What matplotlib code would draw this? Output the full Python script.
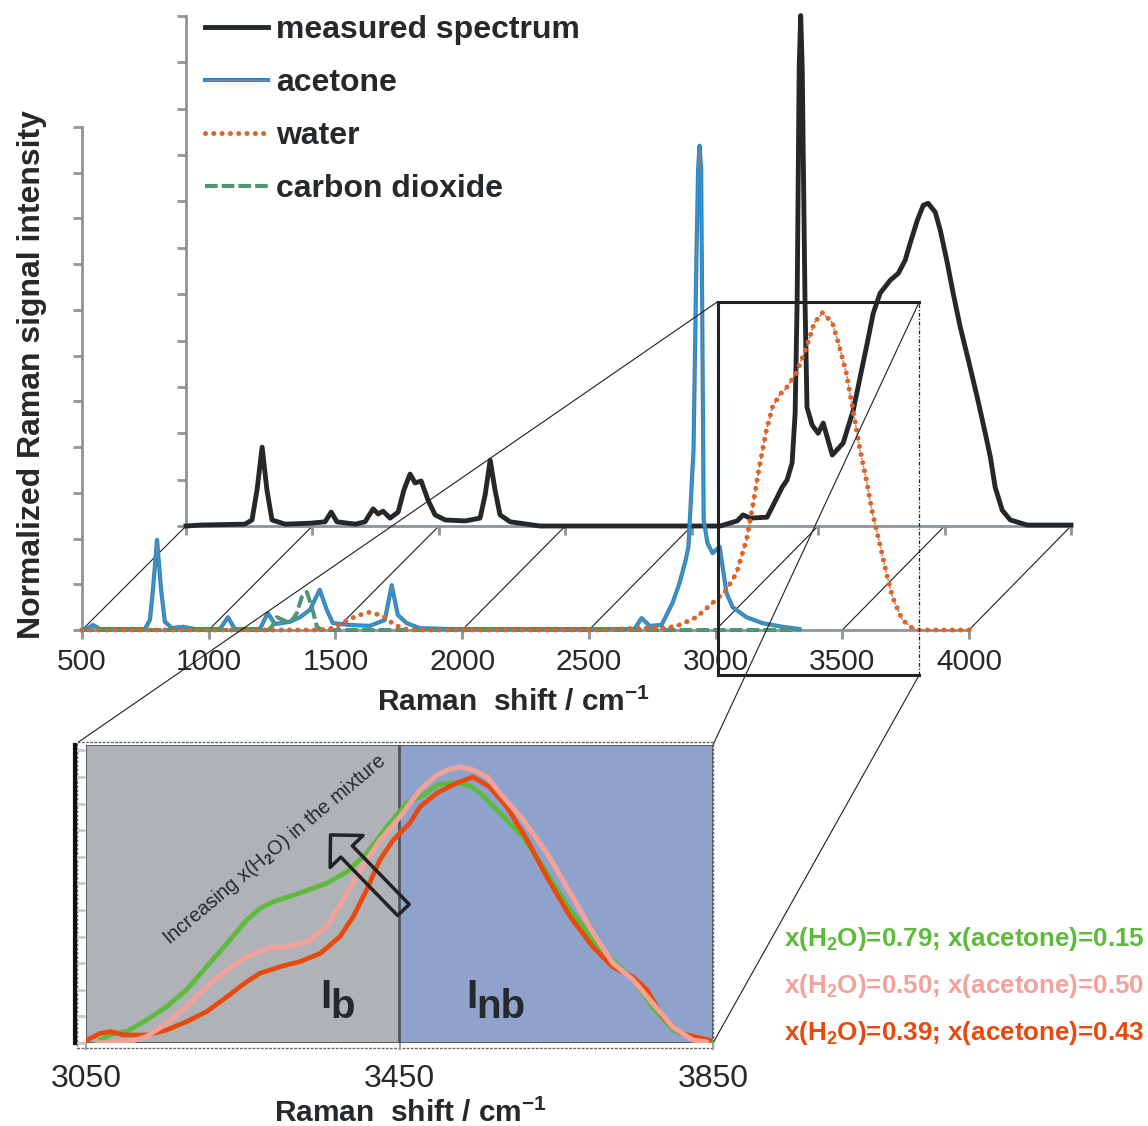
import numpy as np
import matplotlib
matplotlib.use('Agg')
import matplotlib.pyplot as plt
from matplotlib.patches import ConnectionPatch, Rectangle
from matplotlib.legend_handler import HandlerTuple

plt.rcParams['font.family'] = ['Liberation Sans', 'DejaVu Sans']
plt.rcParams['mathtext.fontset'] = 'custom'
plt.rcParams['mathtext.rm'] = 'Liberation Sans:bold'
plt.rcParams['mathtext.it'] = 'Liberation Sans:bold:italic'
plt.rcParams['mathtext.bf'] = 'Liberation Sans:bold'
NARROW = ['Liberation Sans Narrow', 'Liberation Sans', 'DejaVu Sans']

# ---------------- data ----------------
XTICKS = [500, 1000, 1500, 2000, 2500, 3000, 3500, 4000]
YTICKS = [0.0, 0.1, 0.2, 0.3, 0.4, 0.5, 0.6, 0.7, 0.8, 0.9, 1.0, 1.1]

meas_x = [500, 555, 733, 761, 781, 801, 820, 840, 892, 991, 1050, 1074, 1097, 1169, 1208,
          1240, 1260, 1279, 1307, 1339, 1362, 1386, 1406, 1430, 1457, 1485, 1525, 1604, 1663,
          1683, 1703, 1722, 1742, 1782, 1900, 2138, 2454, 2612, 2680, 2703, 2731, 2798, 2838,
          2858, 2877, 2897, 2909, 2917, 2925, 2931, 2937, 2948, 2956, 2976, 3000, 3020, 3056,
          3099, 3139, 3166, 3194, 3218, 3245, 3285, 3317, 3344, 3364, 3392, 3416, 3435, 3463,
          3483, 3511, 3534, 3562, 3594, 3629, 3661, 3681, 3700, 3728, 3760, 3827, 4000]
meas_y = [0.000, 0.002, 0.004, 0.013, 0.078, 0.170, 0.078, 0.013, 0.004, 0.006, 0.009, 0.030,
          0.009, 0.004, 0.009, 0.037, 0.026, 0.032, 0.017, 0.030, 0.078, 0.112, 0.093, 0.097,
          0.056, 0.024, 0.013, 0.011, 0.017, 0.067, 0.142, 0.078, 0.024, 0.009, 0.000, 0.000,
          0.000, 0.000, 0.011, 0.024, 0.017, 0.019, 0.062, 0.084, 0.099, 0.136, 0.243, 0.487,
          0.989, 1.101, 0.989, 0.487, 0.256, 0.218, 0.200, 0.222, 0.153, 0.179, 0.250, 0.321,
          0.394, 0.459, 0.502, 0.530, 0.545, 0.573, 0.610, 0.659, 0.692, 0.696, 0.677, 0.638,
          0.567, 0.502, 0.429, 0.358, 0.278, 0.200, 0.149, 0.084, 0.034, 0.013, 0.002, 0.002]

ace_x = [500, 524, 543, 571, 748, 768, 780, 796, 812, 827, 855, 898, 946, 1044, 1076, 1103,
         1202, 1233, 1261, 1320, 1360, 1399, 1438, 1466, 1490, 1557, 1636, 1695, 1722, 1746,
         1781, 1833, 1951, 2680, 2708, 2740, 2787, 2830, 2858, 2882, 2893, 2913, 2925, 2931,
         2937, 2943, 2947, 2953, 2968, 2988, 3016, 3043, 3067, 3122, 3185, 3264, 3331]
ace_y = [0.000, 0.004, 0.011, 0.002, 0.002, 0.022, 0.088, 0.197, 0.088, 0.018, 0.004, 0.007,
         0.002, 0.002, 0.028, 0.002, 0.002, 0.037, 0.013, 0.018, 0.028, 0.044, 0.088, 0.044,
         0.015, 0.011, 0.009, 0.022, 0.098, 0.033, 0.015, 0.004, 0.002, 0.002, 0.026, 0.009,
         0.011, 0.059, 0.103, 0.153, 0.182, 0.394, 0.832, 1.007, 1.059, 1.007, 0.722, 0.241,
         0.190, 0.168, 0.182, 0.081, 0.050, 0.028, 0.015, 0.007, 0.002]

wat_x = [500, 1440, 1490, 1537, 1584, 1636, 1687, 1734, 1774, 1800, 2540, 2700, 2807, 2858,
         2925, 2988, 3043, 3083, 3122, 3146, 3173, 3201, 3225, 3252, 3280, 3319, 3359, 3390,
         3422, 3461, 3489, 3516, 3540, 3568, 3595, 3619, 3647, 3674, 3698, 3737, 3777, 3804, 4000]
wat_y = [0, 0, 0.004, 0.018, 0.031, 0.039, 0.031, 0.011, 0.002, 0, 0, 0.004, 0.004, 0.011,
         0.028, 0.059, 0.088, 0.125, 0.197, 0.269, 0.357, 0.438, 0.488, 0.514, 0.530, 0.562,
         0.619, 0.672, 0.694, 0.672, 0.619, 0.562, 0.488, 0.400, 0.328, 0.256, 0.190, 0.125,
         0.072, 0.022, 0.004, 0, 0]

co2_x = [500, 1233, 1249, 1269, 1293, 1320, 1348, 1367, 1387, 1407, 1427, 1446, 3330]
co2_y = [0, 0, 0.007, 0.028, 0.022, 0.015, 0.037, 0.072, 0.083, 0.050, 0.007, 0, 0]

# inset (OH stretching region)
INSET_XTICKS = [3050, 3450, 3850]
BAND_EDGES = [3050, 3450, 3850]          # bonded | non-bonded
MIX_H2O = [0.79, 0.50, 0.39]
MIX_ACE = [0.15, 0.50, 0.43]

g_x = [3068, 3085, 3102, 3127, 3153, 3178, 3204, 3230, 3255, 3272, 3289, 3315, 3340, 3357,
       3383, 3408, 3434, 3459, 3483, 3498, 3514, 3527, 3540, 3553, 3578, 3608, 3638, 3668,
       3697, 3722, 3748, 3773, 3799, 3830, 3850]
g_y = [0.011, 0.036, 0.043, 0.086, 0.137, 0.199, 0.287, 0.375, 0.462, 0.506, 0.531, 0.556,
       0.582, 0.600, 0.644, 0.713, 0.813, 0.901, 0.936, 0.970, 0.977, 0.977, 0.966, 0.940,
       0.865, 0.774, 0.639, 0.500, 0.387, 0.312, 0.237, 0.135, 0.049, 0.019, 0.004]
p_x = [3064, 3106, 3127, 3153, 3178, 3204, 3230, 3255, 3281, 3306, 3332, 3357, 3378, 3400,
       3425, 3451, 3476, 3498, 3511, 3527, 3544, 3562, 3578, 3608, 3638, 3668, 3697, 3722,
       3748, 3773, 3799, 3824, 3842]
p_y = [0.0, 0.005, 0.024, 0.074, 0.137, 0.212, 0.274, 0.324, 0.356, 0.362, 0.381, 0.437,
       0.538, 0.650, 0.763, 0.851, 0.951, 1.008, 1.026, 1.038, 1.026, 1.000, 0.940, 0.838,
       0.714, 0.564, 0.414, 0.301, 0.237, 0.150, 0.060, 0.011, 0.004]
r_x = [3051, 3068, 3081, 3098, 3127, 3153, 3178, 3204, 3230, 3255, 3272, 3298, 3323, 3349,
       3374, 3391, 3408, 3425, 3442, 3463, 3476, 3498, 3523, 3544, 3565, 3587, 3613, 3638,
       3668, 3697, 3722, 3748, 3766, 3786, 3808, 3833, 3846]
r_y = [0.011, 0.036, 0.043, 0.030, 0.030, 0.049, 0.080, 0.118, 0.174, 0.230, 0.262, 0.287,
       0.306, 0.337, 0.400, 0.475, 0.575, 0.688, 0.763, 0.826, 0.887, 0.940, 0.977, 1.000,
       0.962, 0.887, 0.763, 0.624, 0.474, 0.361, 0.286, 0.248, 0.199, 0.098, 0.038, 0.019, 0.011]

# zoom window drawn on the front plane (front data coords)
ZOOM_X = (3008, 3804)
ZOOM_Y = (-0.098, 0.718)

# ---------------- style ----------------
AXC = '#8d949b'
DARK = '#26292c'
BLACK = '#25282b'
BLUE = '#1a8dd6'
CORE = '#7d868c'
ORANGE = '#e8601e'
CO2G = '#2e9d63'
GREEN = '#5dba3b'
PINK = '#f2a29b'
RED = '#e84a0d'

W, H = 1148, 1126
fig = plt.figure(figsize=(W / 100, H / 100), dpi=100)


def box(x0, y0, x1, y1):
    return [x0 / W, 1 - y1 / H, (x1 - x0) / W, (y1 - y0) / H]


ax_back = fig.add_axes(box(186, 16, 1071, 526), zorder=1)
ax_front = fig.add_axes(box(82, 127, 969, 630), zorder=2)
ax_in = fig.add_axes(box(86, 745, 713, 1043), zorder=3)

for ax in (ax_back, ax_front):
    ax.set_xlim(500, 4000)
    ax.set_ylim(0, 1.1)
    ax.patch.set_alpha(0)
    for s in ('top', 'right'):
        ax.spines[s].set_visible(False)
    for s in ('left', 'bottom'):
        ax.spines[s].set_color(AXC)
        ax.spines[s].set_linewidth(2)
    ax.set_xticks(XTICKS)
    ax.set_yticks(YTICKS)
    ax.tick_params(color=AXC, width=2, length=6.5, direction='out')
    ax.set_yticklabels([])
ax_back.set_xticklabels([])
ax_front.set_xticklabels([str(t) for t in XTICKS], fontsize=21.5, color=DARK)
ax_front.tick_params(axis='x', pad=6.5)

# measured spectrum on the back plane
l_meas, = ax_back.plot(meas_x, meas_y, color=BLACK, lw=3.5, solid_joinstyle='round',
                       clip_on=False, zorder=3)

# components on the front plane
l_ace_o, = ax_front.plot(ace_x, ace_y, color=BLUE, lw=3.0, clip_on=False, zorder=3)
l_ace_i, = ax_front.plot(ace_x, ace_y, color=CORE, lw=0.9, clip_on=False, zorder=3.1)
l_co2_o, = ax_front.plot(co2_x, co2_y, color=CO2G, lw=2.8, ls=(0, (3.2, 1.1)),
                         clip_on=False, zorder=3.2)
l_co2_i, = ax_front.plot(co2_x, co2_y, color=CORE, lw=1.0, ls=(0, (3.2 * 2.8, 1.1 * 2.8)),
                         clip_on=False, zorder=3.3)
l_wat_o, = ax_front.plot(wat_x, wat_y, color=ORANGE, lw=3.6, ls=(0, (0.01, 1.65)),
                         dash_capstyle='round', clip_on=False, zorder=3.4)
l_wat_i, = ax_front.plot(wat_x, wat_y, color=CORE, lw=1.4, ls=(0, (0.01, 1.65 * 3.6 / 1.4)),
                         dash_capstyle='round', clip_on=False, zorder=3.5)

ax_front.set_xlabel('Raman  shift / cm$^{-1}$', fontsize=21.5, fontweight='bold', color=DARK,
                    va='top')
ax_front.xaxis.set_label_coords(0.486, -0.115)
ax_front.set_ylabel('Normalized Raman signal intensity', fontsize=23, fontweight='bold',
                    color=DARK)
ax_front.yaxis.set_label_coords(-0.040, 0.507)

# depth lines joining front and back planes
for t in XTICKS:
    con = ConnectionPatch(xyA=(t, 0), coordsA=ax_front.transData,
                          xyB=(t, 0), coordsB=ax_back.transData,
                          color='#1e1e1e', lw=0.8, zorder=0.5)
    fig.add_artist(con)

# zoom window on the front plane
zx0, zx1 = ZOOM_X
zy0, zy1 = ZOOM_Y
ax_front.plot([zx0, zx0, zx1], [zy0, zy1, zy1], color='#222222', lw=2.2,
              clip_on=False, zorder=4, solid_joinstyle='miter')
ax_front.plot([zx0, zx1], [zy0, zy0], color='#222222', lw=2.2, clip_on=False, zorder=4)
ax_front.plot([zx1, zx1], [zy0, zy1], color='#222222', lw=0.9, ls=(0, (3, 1.5, 1, 1.5)),
              clip_on=False, zorder=4)

# legend
handles = [(l_meas,), (l_ace_o, l_ace_i), (l_wat_o, l_wat_i), (l_co2_o, l_co2_i)]
labels = ['measured spectrum', 'acetone', 'water', 'carbon dioxide']
fig.legend(handles, labels, loc='upper left', bbox_to_anchor=(205 / W, 1 - 15 / H),
           frameon=False, prop=dict(weight='bold', size=23), labelcolor=DARK,
           handlelength=1.97, handletextpad=0.25, labelspacing=0.72, borderpad=0,
           borderaxespad=0, handler_map={tuple: HandlerTuple(ndivide=1, pad=0)})

# ---------------- inset ----------------
ax_in.set_xlim(BAND_EDGES[0], BAND_EDGES[-1])
ax_in.set_ylim(0, 1.12)
ax_in.axvspan(BAND_EDGES[0], BAND_EDGES[1], facecolor='#afb2b7', edgecolor='#4c4f54',
              lw=1.2, zorder=0)
ax_in.axvspan(BAND_EDGES[1], BAND_EDGES[2], facecolor='#8fa2cc', edgecolor='#4c4f54',
              lw=1.2, zorder=0)
ax_in.plot(g_x, g_y, color=GREEN, lw=3.4, zorder=3, solid_capstyle='round')
ax_in.plot(r_x, r_y, color=RED, lw=3.4, zorder=3.1, solid_capstyle='round')
ax_in.plot(p_x, p_y, color=PINK, lw=3.6, zorder=3.2, solid_capstyle='round')

for s in ('top', 'right', 'bottom'):
    ax_in.spines[s].set_visible(False)
ax_in.spines['left'].set_position(('outward', 8))
ax_in.spines['left'].set_color('#111111')
ax_in.spines['left'].set_linewidth(3)
ax_in.add_patch(Rectangle((-0.014, -0.016), 1.014, 1.027, transform=ax_in.transAxes,
                          fill=False, ec='#666666', lw=1.0, ls=(0, (2, 1)), clip_on=False,
                          zorder=0.5))
ax_in.set_yticks(YTICKS)
ax_in.set_yticklabels([])
ax_in.tick_params(axis='y', direction='in', length=7, width=2, color='#c9c9c9')
ax_in.set_xticks(INSET_XTICKS)
ax_in.set_xticklabels([str(t) for t in INSET_XTICKS], fontsize=23, color=DARK)
ax_in.tick_params(axis='x', direction='out', length=5, width=1.5, color='#a0a0a0', pad=10)
ax_in.set_xlabel('Raman  shift / cm$^{-1}$', fontsize=21.5, fontweight='bold', color=DARK,
                 va='top')
ax_in.xaxis.set_label_coords(0.517, -0.188)

# band labels (I with subscripts)
for xpos, sub in ((3349, 'b'), (3535, 'nb')):
    t_main = ax_in.text(xpos, 0.132, 'I', fontsize=29, fontweight='bold', family=NARROW,
                        color=DARK, va='baseline', zorder=5)
    ax_in.annotate(sub, xy=(1, 0), xycoords=t_main, xytext=(-0.5, -7),
                   textcoords='offset points', fontsize=29, fontweight='bold',
                   family=NARROW, color=DARK, ha='left', va='bottom', zorder=5)

ax_in.text(3156, 0.368, 'Increasing x(H$_2$O) in the mixture', fontsize=14.3, family=NARROW,
           color='#2a2a2a', rotation=40, rotation_mode='anchor', ha='left', va='baseline',
           zorder=5)
ax_in.annotate('', xy=(3362, 0.782), xytext=(3455, 0.50),
               arrowprops=dict(arrowstyle='simple,head_length=0.83,head_width=1.65,tail_width=0.58',
                               fc='none', ec='#222222', lw=2.5, mutation_scale=20,
                               shrinkA=0, shrinkB=0), zorder=5)

# zoom connectors
fig.add_artist(ConnectionPatch(xyA=(zx0, zy1), coordsA=ax_front.transData,
                               xyB=(-0.012, 1.01), coordsB=ax_in.transAxes,
                               color='#1e1e1e', lw=0.8, zorder=2.5))
fig.add_artist(ConnectionPatch(xyA=(zx1, zy1), coordsA=ax_front.transData,
                               xyB=(1.0, 1.0), coordsB=ax_in.transAxes,
                               color='#1e1e1e', lw=0.8, zorder=2.5))
fig.add_artist(ConnectionPatch(xyA=(zx1, zy0), coordsA=ax_front.transData,
                               xyB=(1.0, 0.0), coordsB=ax_in.transAxes,
                               color='#1e1e1e', lw=0.8, zorder=2.5))

# composition labels
for i, (h2o, ace, col) in enumerate(zip(MIX_H2O, MIX_ACE, [GREEN, PINK, RED])):
    fig.text(784 / W, 1 - (946 + 47 * i) / H,
             'x(H$_2$O)=%.2f; x(acetone)=%.2f' % (h2o, ace),
             color=col, fontsize=18.7, fontweight='bold', family=NARROW,
             ha='left', va='baseline')

fig.savefig('out.png', dpi=100)
